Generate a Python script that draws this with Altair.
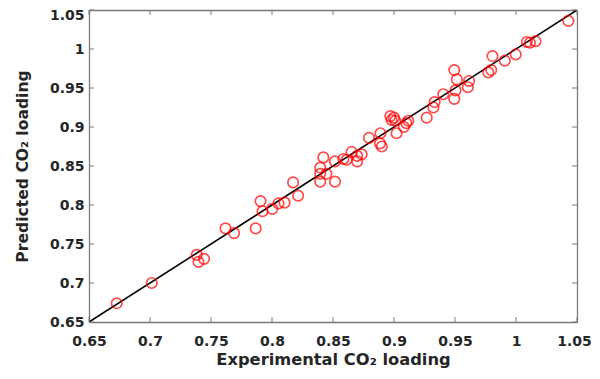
import altair as alt
import pandas as pd

experimental = [0.6727, 0.7014, 0.7383, 0.7397, 0.7443, 0.7619, 0.7689, 0.7866, 0.7906, 0.7922,
                0.8002, 0.8053, 0.8103, 0.8173, 0.8214, 0.8421, 0.8395, 0.8395, 0.8446, 0.8395,
                0.8516, 0.8516, 0.8585, 0.8612, 0.8652, 0.8735, 0.8698, 0.8698, 0.8795, 0.8889,
                0.8885, 0.8900, 0.8970, 0.9000, 0.9010, 0.8980, 0.9021, 0.9081, 0.9101, 0.9117,
                0.9268, 0.9323, 0.9333, 0.9404, 0.9494, 0.9504, 0.9515, 0.9494, 0.9605, 0.9615,
                0.9773, 0.9797, 0.9807, 0.9908, 0.9998, 1.0089, 1.0114, 1.0160, 1.0429]
predicted = [0.674, 0.700, 0.736, 0.727, 0.731, 0.770, 0.764, 0.770, 0.805, 0.792,
             0.795, 0.802, 0.803, 0.829, 0.812, 0.861, 0.848, 0.840, 0.840, 0.830,
             0.830, 0.856, 0.859, 0.858, 0.868, 0.865, 0.863, 0.856, 0.886, 0.892,
             0.879, 0.875, 0.914, 0.912, 0.908, 0.909, 0.892, 0.900, 0.905, 0.908,
             0.912, 0.925, 0.932, 0.942, 0.973, 0.947, 0.961, 0.936, 0.951, 0.959,
             0.970, 0.973, 0.991, 0.985, 0.993, 1.009, 1.008, 1.010, 1.036]

line_x = [0.65, 1.05]
ticks = [0.65, 0.7, 0.75, 0.8, 0.85, 0.9, 0.95, 1.0, 1.05]

W, H = 488, 312
TL = 5
AX = "#7a7a7a"

pts = pd.DataFrame({"exp": experimental, "pred": predicted})
ln = pd.DataFrame({"exp": line_x, "pred": line_x})
tk = pd.DataFrame({"t": ticks})

FONT = "DejaVu Sans"
sc = alt.Scale(domain=[0.65, 1.05], nice=False, zero=False)

common_axis = dict(values=ticks, format="~g", grid=False, ticks=False,
                   domainColor=AX, domainWidth=1.3, labelFlush=False, labelOverlap=False,
                   labelBound=False,
                   labelFont=FONT, labelFontSize=14, labelFontWeight="bold",
                   labelColor="#262626", titleFont=FONT,
                   titleFontWeight="bold", titleColor="#262626")

x_axis = alt.Axis(title="Experimental CO₂ loading", orient="bottom", labelPadding=12,
                  titlePadding=3, titleFontSize=16.3,
                  labelOffset=alt.condition("datum.value == 1.05", alt.value(-3), alt.value(0)),
                  **common_axis)
y_axis = alt.Axis(title="Predicted CO₂ loading", orient="left", labelPadding=5,
                  titlePadding=19, titleFontSize=15.6,
                  labelOffset=alt.condition("datum.value == 1.05", alt.value(5), alt.value(0)),
                  **common_axis)

x_top = alt.Axis(title=None, orient="top", labels=False, ticks=False, grid=False,
                 domainColor=AX, domainWidth=1.3)
y_right = alt.Axis(title=None, orient="right", labels=False, ticks=False, grid=False,
                   domainColor=AX, domainWidth=1.3)

line = alt.Chart(ln).mark_line(color="black", strokeWidth=1.6, clip=True).encode(
    x=alt.X("exp:Q", scale=sc, axis=x_axis),
    y=alt.Y("pred:Q", scale=sc, axis=y_axis),
)

points = alt.Chart(pts).mark_point(shape="circle", filled=False, color="#ff0000",
                                   size=110, strokeWidth=1.7).encode(
    x=alt.X("exp:Q", scale=sc, axis=x_top),
    y=alt.Y("pred:Q", scale=sc, axis=y_right),
)

tick_base = alt.Chart(tk).mark_rule(color=AX, strokeWidth=1)
xb = tick_base.encode(x=alt.X("t:Q", scale=sc, axis=None), y=alt.value(H), y2=alt.value(H - TL))
xt = tick_base.encode(x=alt.X("t:Q", scale=sc, axis=None), y=alt.value(0), y2=alt.value(TL))
yl = tick_base.encode(y=alt.Y("t:Q", scale=sc, axis=None), x=alt.value(0), x2=alt.value(TL))
yr = tick_base.encode(y=alt.Y("t:Q", scale=sc, axis=None), x=alt.value(W), x2=alt.value(W - TL))

chart = alt.layer(line, points, xb, xt, yl, yr).resolve_axis(
    x="independent", y="independent").properties(
    width=W, height=H, autosize="none",
    padding={"left": 81, "top": 2, "right": 15, "bottom": 49},
).configure_view(stroke=None).configure(background="white")

chart.save("out.html", embed_options={"renderer": "svg", "actions": False})
